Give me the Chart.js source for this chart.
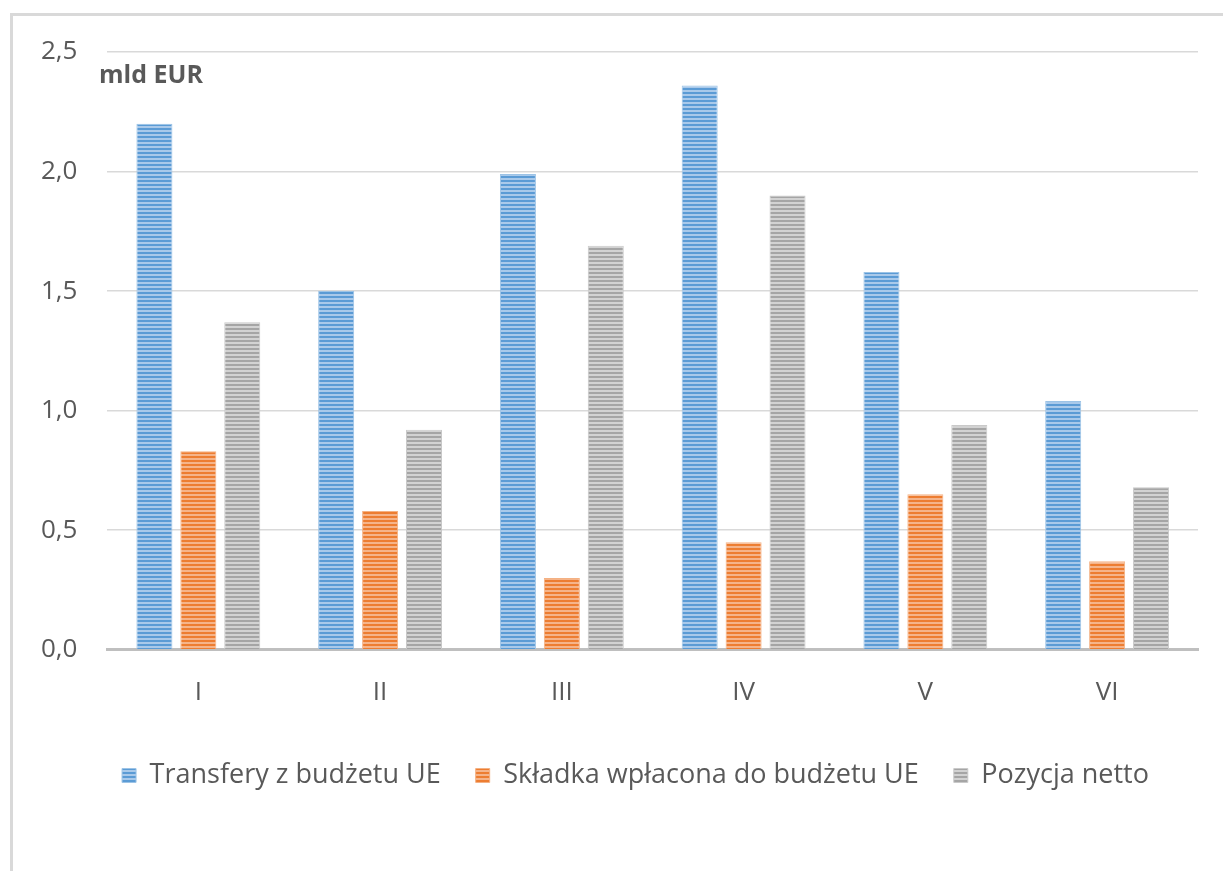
<!DOCTYPE html>
<html>
<head>
<meta charset="utf-8">
<script src="https://cdn.jsdelivr.net/npm/chart.js@4"></script>
<style>
  html, body { margin: 0; padding: 0; background: #fff; }
  #frame {
    position: absolute; left: 10px; top: 13px; width: 1230px; height: 880px;
    border-left: 3px solid #d9d9d9; border-top: 3px solid #d9d9d9;
  }
  #wrap { position: absolute; left: 0; top: 0; width: 1223px; height: 871px; }
</style>
</head>
<body>
<div id="frame"></div>
<div id="wrap"><canvas id="chart"></canvas></div>
<script>
// months (Roman numerals)
const categories = ['I', 'II', 'III', 'IV', 'V', 'VI'];
const transfers = [2.20, 1.50, 1.99, 2.36, 1.58, 1.04];
const contributions = [0.83, 0.58, 0.30, 0.45, 0.65, 0.37];
const netPosition = [1.37, 0.92, 1.69, 1.90, 0.94, 0.68];
const seriesNames = ['Transfery z budżetu UE', 'Składka wpłacona do budżetu UE', 'Pozycja netto'];
const yTicks = [0, 0.5, 1.0, 1.5, 2.0, 2.5];

const FONT = 'Open Sans';
const TEXT = '#595959';

// horizontal stripes like the office "light horizontal" fill
function stripes(dark, light) {
    const c = document.createElement('canvas');
    c.width = 4; c.height = 4;
    const g = c.getContext('2d');
    g.fillStyle = dark;
    g.fillRect(0, 0, 4, 4);
    g.fillStyle = light;
    g.fillRect(0, 2, 4, 2);
    return g.createPattern(c, 'repeat');
}

const blueFill = stripes('#5b9bd5', '#a9c9ea');
const orangeFill = stripes('#ed7d31', '#f5b48a');
const grayFill = stripes('#a5a5a5', '#d2d2d2');

const unitLabel = {
    id: 'unitLabel',
    afterDraw(chart) {
        const ctx = chart.ctx;
        ctx.save();
        ctx.font = 'bold 25px "' + FONT + '"';
        ctx.fillStyle = TEXT;
        ctx.textAlign = 'left';
        ctx.textBaseline = 'middle';
        ctx.fillText('mld EUR', 99, 76);
        ctx.restore();
    }
};

// legend is centred under the plot area in the original, not under the whole canvas
const legendShift = {
    id: 'legendShift',
    afterLayout(chart) {
        if (chart.legend) {
            chart.legend.left += 62;
        }
    }
};

new Chart(document.getElementById('chart'), {
    type: 'bar',
    data: {
        labels: categories,
        datasets: [
            { label: seriesNames[0], data: transfers, backgroundColor: blueFill, borderColor: '#9cc3e6', borderWidth: 1 },
            { label: seriesNames[1], data: contributions, backgroundColor: orangeFill, borderColor: '#f4b183', borderWidth: 1 },
            { label: seriesNames[2], data: netPosition, backgroundColor: grayFill, borderColor: '#c9c9c9', borderWidth: 1 }
        ]
    },
    options: {
        responsive: true,
        maintainAspectRatio: false,
        animation: false,
        layout: { padding: { left: 11, right: 25, top: 52, bottom: 72 } },
        datasets: { bar: { categoryPercentage: 0.725, barPercentage: 0.82 } },
        plugins: {
            legend: {
                position: 'bottom',
                labels: {
                    font: { family: FONT, size: 27 },
                    color: TEXT,
                    boxWidth: 14,
                    boxHeight: 14,
                    padding: 35
                }
            },
            tooltip: { enabled: false }
        },
        scales: {
            x: {
                grid: { display: false },
                border: { color: '#bfbfbf', width: 3 },
                ticks: { font: { family: FONT, size: 26 }, color: TEXT, padding: 19 }
            },
            y: {
                min: 0,
                max: 2.5,
                afterBuildTicks: axis => { axis.ticks = yTicks.map(v => ({ value: v })); },
                grid: { color: '#d9d9d9', lineWidth: 1.5, drawTicks: false },
                border: { display: false },
                ticks: {
                    font: { family: FONT, size: 26 },
                    color: TEXT,
                    padding: 30,
                    callback: v => v.toFixed(1).replace('.', ',')
                }
            }
        }
    },
    plugins: [unitLabel, legendShift]
});
</script>
</body>
</html>
